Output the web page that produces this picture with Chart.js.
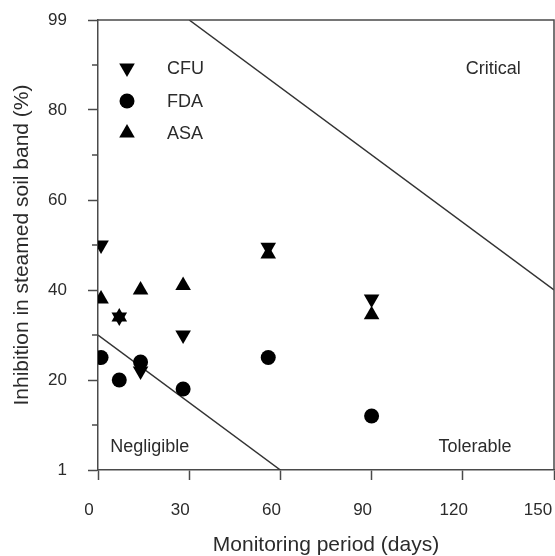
<!DOCTYPE html>
<html>
<head>
<meta charset="utf-8">
<script src="https://cdn.jsdelivr.net/npm/chart.js@4"></script>
<style>
  html, body { margin: 0; padding: 0; background: #ffffff; }
  canvas { display: block; }
</style>
</head>
<body>
<canvas id="c" width="555" height="556"></canvas>
<script>
// ---- data ----
const days = [1, 7, 14, 28, 56, 90];
const cfu  = [50, 34, 22, 30, 49.5, 38];
const fda  = [25, 20, 24, 18, 25, 12];
const asa  = [38, 34, 40, 41, 48, 34.5];

const seriesNames = ['CFU', 'FDA', 'ASA'];

// zone boundary lines (days, % inhibition)
const lowerBoundaryX = [0, 60];
const lowerBoundaryY = [30, 0];
const upperBoundaryX = [30, 150];
const upperBoundaryY = [100, 40];

// tick labels
const xTickValues = [0, 30, 60, 90, 120, 150];
const xTickLabels = ['0', '30', '60', '90', '120', '150'];
const yMajorTicks = [0, 20, 40, 60, 80, 100];
const yTickLabels = ['1', '20', '40', '60', '80', '99'];

// zone labels (data units)
const zoneNames = ['Critical', 'Negligible', 'Tolerable'];
const zoneX = [130, 17, 124];
const zoneY = [89, 5, 5];

// ---- styling ----
const FONT = "'Liberation Sans', Arial, Helvetica, sans-serif";
const TEXT = '#2b2b2b';
const AXIS = '#4a4a4a';
const MARK = '#000000';

const pts = (xs, ys) => xs.map((x, i) => ({x: x, y: ys[i]}));

const markerStyles = [
  {pointStyle: 'triangle', rotation: 180, radius: 9},
  {pointStyle: 'circle', rotation: 0, radius: 7.5},
  {pointStyle: 'triangle', rotation: 0, radius: 9}
];
const seriesValues = [cfu, fda, asa];

const datasets = seriesValues.map((vals, i) => ({
  label: seriesNames[i],
  data: pts(days, vals),
  showLine: false,
  pointStyle: markerStyles[i].pointStyle,
  rotation: markerStyles[i].rotation,
  pointRadius: markerStyles[i].radius,
  backgroundColor: MARK,
  borderColor: MARK,
  borderWidth: 0
}));

datasets.push({
  label: 'lower',
  data: pts(lowerBoundaryX, lowerBoundaryY),
  showLine: true,
  pointRadius: 0,
  borderColor: '#333333',
  borderWidth: 1.5,
  fill: false
});
datasets.push({
  label: 'upper',
  data: pts(upperBoundaryX, upperBoundaryY),
  showLine: true,
  pointRadius: 0,
  borderColor: '#333333',
  borderWidth: 1.5,
  fill: false
});

const decor = {
  id: 'decor',
  afterDraw(chart) {
    const ctx = chart.ctx;
    const a = chart.chartArea;
    const xs = chart.scales.x, ys = chart.scales.y;
    ctx.save();
    // top & right frame
    ctx.strokeStyle = AXIS;
    ctx.lineWidth = 1.5;
    ctx.beginPath();
    ctx.moveTo(a.left, a.top);
    ctx.lineTo(a.right, a.top);
    ctx.lineTo(a.right, a.bottom);
    ctx.stroke();
    // minor y ticks
    ys.ticks.forEach(t => {
      if (!yMajorTicks.includes(t.value)) {
        const py = ys.getPixelForValue(t.value);
        ctx.beginPath();
        ctx.moveTo(a.left - 6, py);
        ctx.lineTo(a.left, py);
        ctx.stroke();
      }
    });
    // zone labels
    ctx.fillStyle = TEXT;
    ctx.font = '18px ' + FONT;
    ctx.textAlign = 'center';
    ctx.textBaseline = 'middle';
    zoneNames.forEach((n, i) => {
      ctx.fillText(n, xs.getPixelForValue(zoneX[i]), ys.getPixelForValue(zoneY[i]));
    });
    // legend
    const lx = a.left + 29, tx = a.left + 69;
    const rowY = [a.top + 48, a.top + 81, a.top + 113];
    ctx.textAlign = 'left';
    seriesNames.forEach((n, i) => {
      ctx.fillStyle = MARK;
      ctx.strokeStyle = MARK;
      ctx.lineWidth = 0;
      Chart.helpers.drawPoint(ctx, {
        pointStyle: markerStyles[i].pointStyle,
        rotation: markerStyles[i].rotation,
        radius: markerStyles[i].radius,
        borderWidth: 0
      }, lx, rowY[i]);
      ctx.fillStyle = TEXT;
      ctx.fillText(n, tx, rowY[i] + 1);
    });
    ctx.restore();
  }
};

new Chart(document.getElementById('c'), {
  type: 'scatter',
  data: {datasets: datasets},
  options: {
    responsive: false,
    animation: false,
    devicePixelRatio: 1,
    layout: {autoPadding: false, padding: {top: 20, right: 1, left: 0, bottom: 0}},
    plugins: {legend: {display: false}, tooltip: {enabled: false}},
    scales: {
      x: {
        type: 'linear',
        min: 0, max: 150,
        afterBuildTicks: s => { s.ticks = xTickValues.map(v => ({value: v})); },
        ticks: {
          color: TEXT,
          font: {family: FONT, size: 17},
          padding: 20,
          labelOffset: -9,
          maxRotation: 0,
          autoSkip: false,
          callback: (v, i) => {
            const k = xTickValues.indexOf(v);
            const lbl = k >= 0 ? xTickLabels[k] : '';
            // keep the last label inside the canvas edge
            return k === xTickValues.length - 1 ? lbl + '   ' : lbl;
          }
        },
        grid: {display: true, drawOnChartArea: false, drawTicks: true, tickLength: 10, tickColor: AXIS, tickWidth: 1.5},
        border: {display: true, color: AXIS, width: 1.5},
        title: {
          display: true,
          text: 'Monitoring period (days)',
          color: TEXT,
          font: {family: FONT, size: 21, lineHeight: 1},
          padding: {top: 10, bottom: 0}
        },
        afterFit: s => { s.height = 86; s.paddingLeft = 0; s.paddingRight = 0; s.paddingTop = 0; s.paddingBottom = 0; }
      },
      y: {
        type: 'linear',
        min: 0, max: 100,
        ticks: {
          stepSize: 10,
          color: TEXT,
          font: {family: FONT, size: 17},
          padding: 21,
          autoSkip: false,
          callback: v => {
            const i = yMajorTicks.indexOf(v);
            return i >= 0 ? yTickLabels[i] : '';
          }
        },
        grid: {
          display: true, drawOnChartArea: false, drawTicks: true, tickLength: 10, tickWidth: 1.5,
          tickColor: c => (c.tick && yMajorTicks.includes(c.tick.value)) ? AXIS : 'rgba(0,0,0,0)'
        },
        border: {display: true, color: AXIS, width: 1.5},
        title: {
          display: true,
          text: 'Inhibition in steamed soil band (%)',
          color: TEXT,
          font: {family: FONT, size: 21, lineHeight: 1.2},
          padding: {top: 10, bottom: 4}
        },
        afterFit: s => { s.width = 98; s.paddingTop = 0; s.paddingBottom = 0; s.paddingLeft = 0; s.paddingRight = 0; }
      }
    }
  },
  plugins: [decor]
});
</script>
</body>
</html>
